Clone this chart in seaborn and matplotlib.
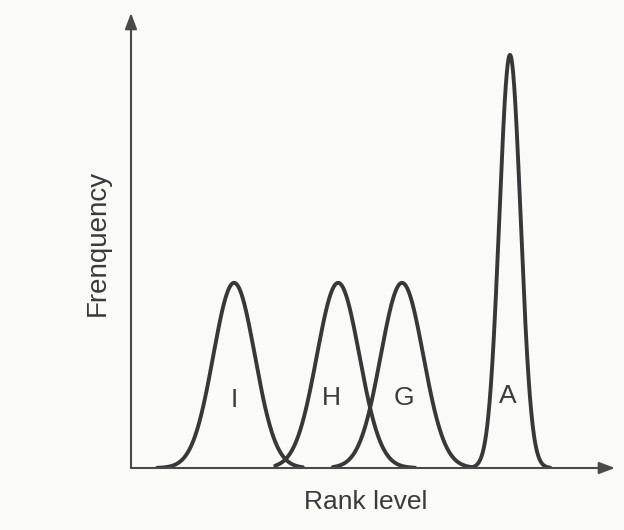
import numpy as np
import pandas as pd
import matplotlib
matplotlib.use("Agg")
import matplotlib.pyplot as plt
import seaborn as sns

# ---- data (axis units: 0-100 on both axes) ----
labels = ["I", "H", "G", "A"]
centers = [21.3, 42.8, 56.0, 78.3]      # rank level at peak
peaks = [40.7, 40.7, 40.7, 90.8]        # frequency at peak
widths = [4.3, 4.4, 4.4, 2.2]           # spread (std) of each bell
span_lo = [5.4, 29.8, 41.7, 70.2]       # where each drawn curve starts
span_hi = [35.5, 58.7, 71.1, 86.6]      # where each drawn curve ends
label_x = [21.3, 41.5, 56.4, 77.9]
label_y = [14.9, 15.3, 15.3, 15.8]
x_title = "Rank level"
y_title = "Frenquency"

rows = []
for lab, c, p, w, lo, hi in zip(labels, centers, peaks, widths, span_lo, span_hi):
    xs = np.linspace(lo, hi, 300)
    ys = p * np.exp(-0.5 * ((xs - c) / w) ** 2)
    rows.append(pd.DataFrame({"rank": xs, "freq": ys, "group": lab}))
df = pd.concat(rows, ignore_index=True)

sns.set_theme(style="white")
plt.rcParams["font.family"] = ["Liberation Sans", "DejaVu Sans"]

W, H = 624, 530
fig = plt.figure(figsize=(W / 100, H / 100), dpi=100, facecolor="#fafaf9")
ax_l, ax_r, ax_b, ax_t = 131, 615, 468, 13
ax = fig.add_axes([ax_l / W, 1 - ax_b / H, (ax_r - ax_l) / W, (ax_b - ax_t) / H])
ax.set_facecolor("none")

curve_color = "#383838"
sns.lineplot(data=df, x="rank", y="freq", units="group", estimator=None,
             color=curve_color, linewidth=2.8, ax=ax, legend=False, sort=False)
ax.set_xlim(0, 100)
ax.set_ylim(0, 100)
for s in ax.spines.values():
    s.set_visible(False)
ax.set_xticks([])
ax.set_yticks([])
ax.set_xlabel("")
ax.set_ylabel("")

axis_color = "#4a4a4a"
arrow = dict(arrowstyle="-|>,head_length=0.8,head_width=0.3", color=axis_color,
             lw=1.5, shrinkA=0, shrinkB=0)
ax.annotate("", xy=(1, 0), xytext=(0, 0), xycoords="axes fraction",
            textcoords="axes fraction", arrowprops=arrow, annotation_clip=False)
ax.annotate("", xy=(0, 1), xytext=(0, 0), xycoords="axes fraction",
            textcoords="axes fraction", arrowprops=arrow, annotation_clip=False)

for lab, lx, ly in zip(labels, label_x, label_y):
    ax.text(lx, ly, lab, ha="center", va="center", fontsize=19, color="#3a3a3a")

fig.text(366 / W, 1 - 502 / H, x_title, ha="center", va="center",
         fontsize=19, color="#3a3a3a")
fig.text(98 / W, 1 - 243 / H, y_title, ha="center", va="center",
         rotation=90, fontsize=20, color="#3a3a3a")

fig.savefig("out.png", dpi=100, facecolor=fig.get_facecolor())
